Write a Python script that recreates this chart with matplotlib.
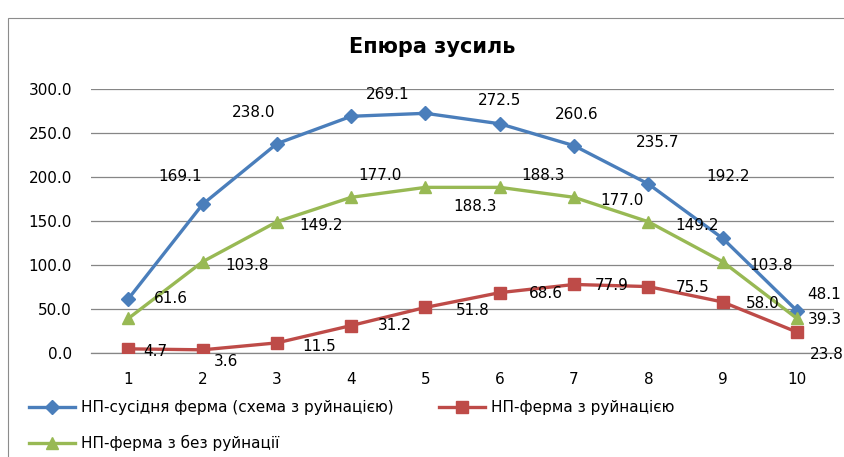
import matplotlib.pyplot as plt
from matplotlib.lines import Line2D
from matplotlib.patches import Rectangle

# дані
nodes = [1, 2, 3, 4, 5, 6, 7, 8, 9, 10]
blue_vals = [61.6, 169.1, 238.0, 269.1, 272.5, 260.6, 235.7, 192.2, 130.4, 48.1]
red_vals = [4.7, 3.6, 11.5, 31.2, 51.8, 68.6, 77.9, 75.5, 58.0, 23.8]
green_vals = [39.3, 103.8, 149.2, 177.0, 188.3, 188.3, 177.0, 149.2, 103.8, 39.3]
y_ticks = [0, 50, 100, 150, 200, 250, 300]

names = ['НП-сусідня ферма (схема з руйнацією)',
         'НП-ферма з руйнацією',
         'НП-ферма з без руйнації']
title = 'Епюра зусиль'

# зсуви підписів (категорія, значення) – як в Excel-оригіналі
blue_off = [(0.57, 0), (-0.31, 31), (-0.32, 35.5), (0.49, 24.5), (1.0, 14),
            (1.04, 11), (1.12, 3.7), (1.07, 8), None, (0.37, 18)]
red_off = [(0.36, -2.8), (0.31, -13), (0.57, -4), (0.58, 0), (0.64, -4),
           (0.62, -1.3), (0.5, -1.5), (0.59, -0.5), (0.54, -2), (0.4, -25)]
green_off = [None, (0.6, -3.8), (0.6, -4.8), (0.39, 25), (0.67, -21.6),
             (0.58, 13.7), (0.64, -4), (0.66, -4.8), (0.65, -3.8), (0.38, -1)]

c_blue, c_red, c_green = '#4A7EBB', '#BE4B48', '#98B954'

fig = plt.figure(figsize=(8.45, 4.57), dpi=100)
ax = fig.add_axes([0.108, 0.2276, 0.879, 0.5774])

# рамка діаграми
fig.patches.append(Rectangle((8 / 845, -0.1), 1.2, 1.1 - 18 / 457,
                             transform=fig.transFigure, fill=False,
                             edgecolor='#8c8c8c', linewidth=0.8))

ax.plot(nodes, blue_vals, color=c_blue, lw=2.4, marker='D', ms=7, zorder=3)
ax.plot(nodes, red_vals, color=c_red, lw=2.4, marker='s', ms=8, zorder=3)
ax.plot(nodes, green_vals, color=c_green, lw=2.4, marker='^', ms=9, zorder=3)

for vals, offs in [(blue_vals, blue_off), (red_vals, red_off), (green_vals, green_off)]:
    for x, v, o in zip(nodes, vals, offs):
        if o is None:
            continue
        ax.text(x + o[0], v + o[1], f'{v:.1f}', ha='center', va='center',
                fontsize=11, color='black', clip_on=False, zorder=4)

ax.set_xlim(0.5, 10.5)
ax.set_ylim(0, 300)
ax.set_xticks(nodes)
ax.set_yticks(y_ticks)
ax.set_yticklabels([f'{t:.1f}' for t in y_ticks])
ax.tick_params(axis='both', length=0, labelsize=11)
ax.tick_params(axis='x', pad=14)
ax.tick_params(axis='y', pad=14)
ax.grid(axis='y', color='#868686', lw=0.9)
ax.axhline(0, color='#868686', lw=0.9, clip_on=False, zorder=1)
ax.set_axisbelow(True)
for s in ax.spines.values():
    s.set_visible(False)

fig.text(0.511, 0.897, title, ha='center', va='center', fontsize=15, fontweight='bold')

handles = [
    Line2D([], [], color=c_blue, lw=2.4, marker='D', ms=7),
    Line2D([], [], color=c_green, lw=2.4, marker='^', ms=9),
    Line2D([], [], color=c_red, lw=2.4, marker='s', ms=8),
]
fig.legend(handles, [names[0], names[2], names[1]], loc='upper left',
           bbox_to_anchor=(0.034, 0.124), ncol=2, frameon=False, fontsize=11,
           handlelength=3.0, handletextpad=0.4, columnspacing=3.0,
           labelspacing=1.3, borderaxespad=0, borderpad=0)

fig.savefig('out.png', dpi=100)
